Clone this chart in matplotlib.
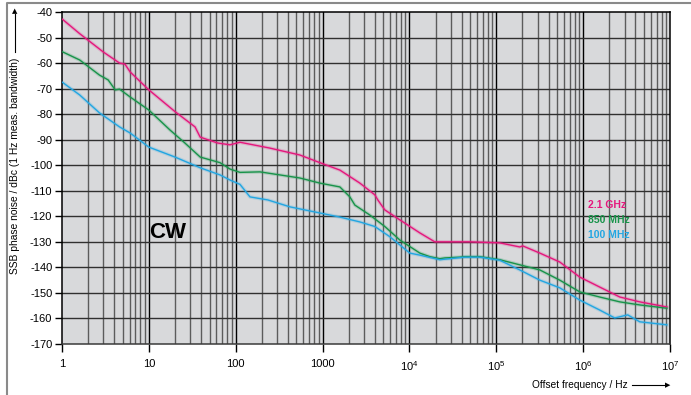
import numpy as np
import matplotlib.pyplot as plt
from matplotlib.ticker import FixedLocator, NullFormatter

plt.rcParams['font.family'] = ['Liberation Sans', 'DejaVu Sans']
plt.rcParams['mathtext.fontset'] = 'custom'
plt.rcParams['mathtext.rm'] = 'Liberation Sans'

# 2.1 GHz trace (offset frequency in Hz, dBc)
f_21 = [1, 1.6, 3.0, 4.6, 5.3, 6.1, 10, 20, 34, 39, 62, 86, 112, 248, 548, 883,
        1582, 2687, 4000, 4327, 5210, 7760, 13180, 19600, 38000, 49550, 109700,
        186300, 202000, 317000, 538000, 914000, 1.55e6, 2.64e6, 4.48e6, 9.2e6]
p_21 = [-42.7, -48.5, -55.7, -60.0, -60.4, -63.5, -70.5, -79, -85, -89, -91.3, -92, -91,
        -93.3, -96, -98.7, -101.9, -107, -111.6, -113.6, -117.5, -121.4, -126.5, -130,
        -130, -130, -130.4, -132, -131.6, -134.4, -137.9, -143.8, -147.7, -151.6,
        -153.5, -155.5]

# 850 MHz trace
f_850 = [1, 1.6, 2.7, 3.4, 4.1, 4.6, 6.1, 10, 17.5, 26, 39, 66, 86, 112, 190, 323,
         548, 931, 1582, 2062, 2353, 3500, 5210, 7760, 13180, 17170, 22380, 25530,
         38000, 43360, 64560, 109700, 186300, 317000, 538000, 914000, 1.55e6, 2.64e6,
         4.48e6, 9.2e6]
p_850 = [-55.5, -58.8, -64.7, -66.6, -70.5, -70.2, -73.3, -78.4, -86.2, -91.3, -96.8,
         -99, -101.5, -102.8, -102.6, -103.8, -105, -107, -108.5, -112.4, -115.6, -119.5,
         -124, -129.3, -134.4, -135.8, -136.6, -136.3, -136, -135.8, -135.8, -137, -139,
         -141, -145, -149.6, -151.6, -153.5, -154.7, -156]

# 100 MHz trace
f_100 = [1, 1.6, 2.7, 4.6, 6.1, 10, 20, 39, 66, 86, 112, 146, 235, 421, 931, 1582,
         2687, 4000, 5950, 7760, 10100, 13180, 22380, 43360, 64560, 109700, 186300,
         317000, 538000, 914000, 1.55e6, 2.31e6, 3.26e6, 4.48e6, 9.2e6]
p_100 = [-67.4, -72.5, -79.5, -85, -87.4, -92.9, -96.8, -101, -103.8, -105.8, -107.5,
         -112.4, -113.6, -116.3, -118.7, -120.3, -122.2, -124, -128, -131.2, -134.4,
         -135.2, -137, -136, -136, -137.2, -141, -145, -148, -152.8, -156.7, -159.8,
         -158.6, -161.3, -162.5]

yticks = list(range(-170, -39, 10))
xmajor = [1, 10, 100, 1000, 1e4, 1e5, 1e6, 1e7]
xlabels = ['1', '10', '100', '1000', '$10^4$', '$10^5$', '$10^6$', '$10^7$']
series = [('2.1 GHz', f_21, p_21, '#e5177d'),
          ('850 MHz', f_850, p_850, '#18934a'),
          ('100 MHz', f_100, p_100, '#22a6e2')]

fig = plt.figure(figsize=(6.91, 3.95), dpi=100)
ax = fig.add_axes([62 / 691, 1 - 344 / 395, 608 / 691, 332 / 395])
ax.set_facecolor('#d8d9db')
ax.set_xscale('log')
ax.set_xlim(1, 1e7)
ax.set_ylim(-170, -40)

# grid: minor decades gray, majors black
minors = [m * 10 ** d for d in range(7) for m in range(2, 10)]
for v in minors:
    ax.axvline(v, color='#5c5c5c', lw=1.0, zorder=1)
for v in xmajor[1:-1]:
    ax.axvline(v, color='black', lw=1.0, zorder=1)
for v in yticks[1:-1]:
    ax.axhline(v, color='#303030', lw=1.0, zorder=1)

for name, f, p, c in series:
    ax.plot(f, p, color=c, lw=2.6, alpha=0.2, zorder=2, solid_joinstyle='round')
    ax.plot(f, p, color=c, lw=1.0, zorder=3)

ax.xaxis.set_major_locator(FixedLocator(xmajor))
ax.set_xticklabels(xlabels)
ax.xaxis.set_minor_locator(FixedLocator(minors))
ax.xaxis.set_minor_formatter(NullFormatter())
ax.tick_params(axis='x', which='major', length=6, width=1, pad=5, labelsize=8,
               direction='out')
ax.tick_params(axis='x', which='minor', length=0)
ax.set_yticks(yticks)
ax.set_yticklabels([str(v) for v in yticks])
ax.tick_params(axis='y', length=5, width=1, pad=2, labelsize=8)
for s in ax.spines.values():
    s.set_linewidth(1.1)
ax.spines['bottom'].set_color('#3a3a3a')

fig.text(168 / 691, 1 - 232 / 395, 'CW', fontsize=16, fontweight='bold',
         ha='center', va='center')
for i, (name, f, p, c) in enumerate(series):
    fig.text(588 / 691, 1 - (205 + 15 * i) / 395, name, color=c, fontsize=7.5,
             fontweight='bold', ha='left', va='center')

fig.text(15 / 691, 1 - 166 / 395, 'SSB phase noise / dBc (1 Hz meas. bandwidth)',
         rotation=90, fontsize=7.4, ha='center', va='center')
fig.add_artist(plt.Line2D([15 / 691, 15 / 691], [1 - 52 / 395, 1 - 14 / 395],
                          color='black', lw=0.8))
fig.text(15 / 691, 1 - 11 / 395, '\u25B2', fontsize=5, ha='center', va='center',
         family='DejaVu Sans')
fig.text(532 / 691, 1 - 385 / 395, 'Offset frequency / Hz', fontsize=7.3,
         ha='left', va='center')
fig.add_artist(plt.Line2D([632 / 691, 664 / 691], [1 - 385 / 395, 1 - 385 / 395],
                          color='black', lw=0.8))
fig.text(668 / 691, 1 - 385 / 395, '\u25B6', fontsize=5, ha='center', va='center',
         family='DejaVu Sans')

# outer frame
fig.add_artist(plt.Line2D([7 / 691, 7 / 691, 691 / 691], [0, 1 - 3 / 395, 1 - 3 / 395],
                          color='#8a8a8a', lw=1.5))

fig.savefig('out.png', dpi=100)
